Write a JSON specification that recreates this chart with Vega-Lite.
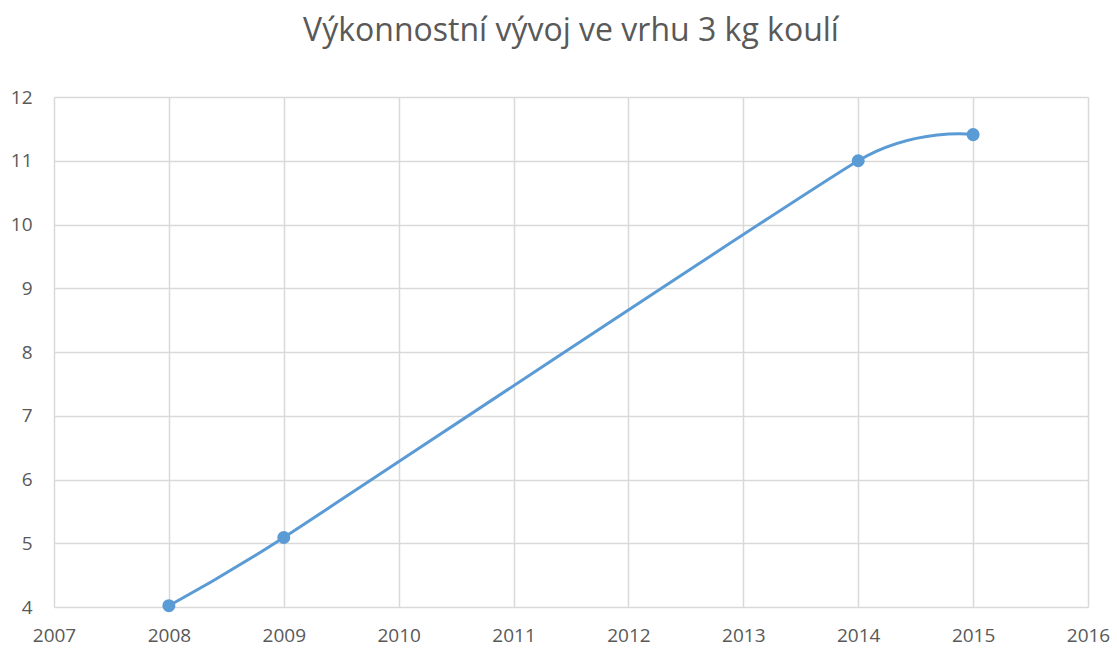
{
  "$schema": "https://vega.github.io/schema/vega-lite/v6.json",
  "width": 1034,
  "height": 510,
  "autosize": {"type": "none"},
  "padding": {"left": 54, "top": 97, "right": 29, "bottom": 44},
  "background": "white",
  "title": {
    "text": "Výkonnostní vývoj ve vrhu 3 kg koulí",
    "font": "Open Sans",
    "fontSize": 32,
    "fontWeight": "normal",
    "color": "#595959",
    "anchor": "middle",
    "offset": 40
  },
  "data": {
    "values": [
      {"rok": 2008, "vykon": 4.02},
      {"rok": 2009, "vykon": 5.09},
      {"rok": 2014, "vykon": 11.0},
      {"rok": 2015, "vykon": 11.41}
    ]
  },
  "config": {
    "view": {"stroke": null},
    "axis": {
      "labelFont": "Open Sans",
      "labelFontSize": 19,
      "labelColor": "#595959",
      "gridColor": "#d9d9d9",
      "gridWidth": 1.5,
      "domain": false,
      "ticks": false,
      "title": null
    }
  },
  "layer": [
    {
      "mark": {"type": "line", "interpolate": "cardinal", "tension": 0.5, "color": "#5b9bd5", "strokeWidth": 3},
      "encoding": {
        "x": {"field": "rok", "type": "quantitative", "scale": {"domain": [2007, 2016], "nice": false, "zero": false}, "axis": {"values": [2007,2008,2009,2010,2011,2012,2013,2014,2015,2016], "format": "d", "labelPadding": 19, "labelFlush": false}},
        "y": {"field": "vykon", "type": "quantitative", "scale": {"domain": [4, 12], "nice": false, "zero": false}, "axis": {"values": [4,5,6,7,8,9,10,11,12], "format": "d", "labelPadding": 22}}
      }
    },
    {
      "mark": {"type": "point", "filled": true, "size": 170, "color": "#5b9bd5", "opacity": 1},
      "encoding": {
        "x": {"field": "rok", "type": "quantitative"},
        "y": {"field": "vykon", "type": "quantitative"}
      }
    }
  ]
}
